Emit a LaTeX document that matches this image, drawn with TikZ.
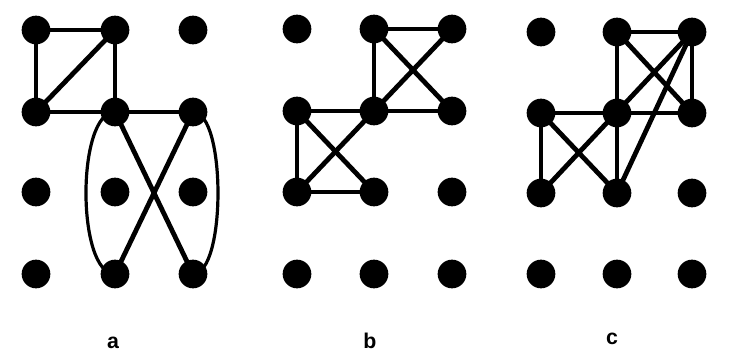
\documentclass[tikz,border=0pt]{standalone}
\usepackage{fontspec}
\setmainfont{Liberation Sans}
\begin{document}
\begin{tikzpicture}[x=0.75pt,y=-0.75pt,
  dot/.style={circle,fill=black,draw=none,inner sep=0pt,minimum size=21.5pt},
  thinedge/.style={line width=2.7pt},
  curveedge/.style={line width=2.4pt},
  thickedge/.style={line width=3.6pt},
  lbl/.style={font=\fontsize{16}{18}\selectfont\bfseries,anchor=base,inner sep=0pt}]
\useasboundingbox (0,0) rectangle (742,352);
% ---------- panel a ----------
\foreach \r/\y in {1/30,2/112,3/192,4/274}{
  \foreach \c/\x in {1/36,2/115,3/193}{
    \node[dot] (a\r\c) at (\x,\y) {};
  }}
\draw[thinedge] (a11.center) -- (a12.center);
\draw[thinedge] (a11.center) -- (a21.center);
\draw[thinedge] (a12.center) -- (a22.center);
\draw[thickedge] (a21.center) -- (a12.center);
\draw[thinedge] (a21.center) -- (a22.center);
\draw[thinedge] (a22.center) -- (a23.center);
\draw[thickedge] (a22.center) -- (a43.center);
\draw[thickedge] (a23.center) -- (a42.center);
\draw[curveedge] (a22.center) .. controls (76.3,112) and (76.3,274) .. (a42.center);
\draw[curveedge] (a23.center) .. controls (226.3,112) and (226.3,274) .. (a43.center);
\node[lbl] (la) at (113,349) {a};
% ---------- panel b ----------
\foreach \r/\y in {1/29,2/111,3/192,4/274}{
  \foreach \c/\x in {1/297,2/374,3/452}{
    \node[dot] (b\r\c) at (\x,\y) {};
  }}
\draw[thinedge] (b12.center) -- (b13.center);
\draw[thinedge] (b12.center) -- (b22.center);
\draw[thickedge] (b12.center) -- (b23.center);
\draw[thickedge] (b13.center) -- (b31.center);
\draw[thinedge] (b21.center) -- (b22.center);
\draw[thinedge] (b22.center) -- (b23.center);
\draw[thinedge] (b21.center) -- (b31.center);
\draw[thickedge] (b21.center) -- (b32.center);
\draw[thinedge] (b31.center) -- (b32.center);
\node[lbl] (lb) at (370,349) {b};
% ---------- panel c ----------
\foreach \r/\y in {1/32,2/113,3/193,4/274}{
  \foreach \c/\x in {1/541,2/617,3/692}{
    \node[dot] (c\r\c) at (\x,\y) {};
  }}
\draw[thinedge] (c12.center) -- (c13.center);
\draw[thinedge] (c12.center) -- (c22.center);
\draw[thickedge] (c12.center) -- (c23.center);
\draw[thinedge] (c13.center) -- (c23.center);
\draw[thickedge] (c13.center) -- (c31.center);
\draw[thickedge] (c13.center) -- (c32.center);
\draw[thinedge] (c21.center) -- (c22.center);
\draw[thinedge] (c22.center) -- (c23.center);
\draw[thinedge] (c21.center) -- (c31.center);
\draw[thickedge] (c21.center) -- (c32.center);
\draw[thinedge] (c22.center) -- (c32.center);
\node[lbl] (lc) at (612,344.5) {c};
\end{tikzpicture}
\end{document}
